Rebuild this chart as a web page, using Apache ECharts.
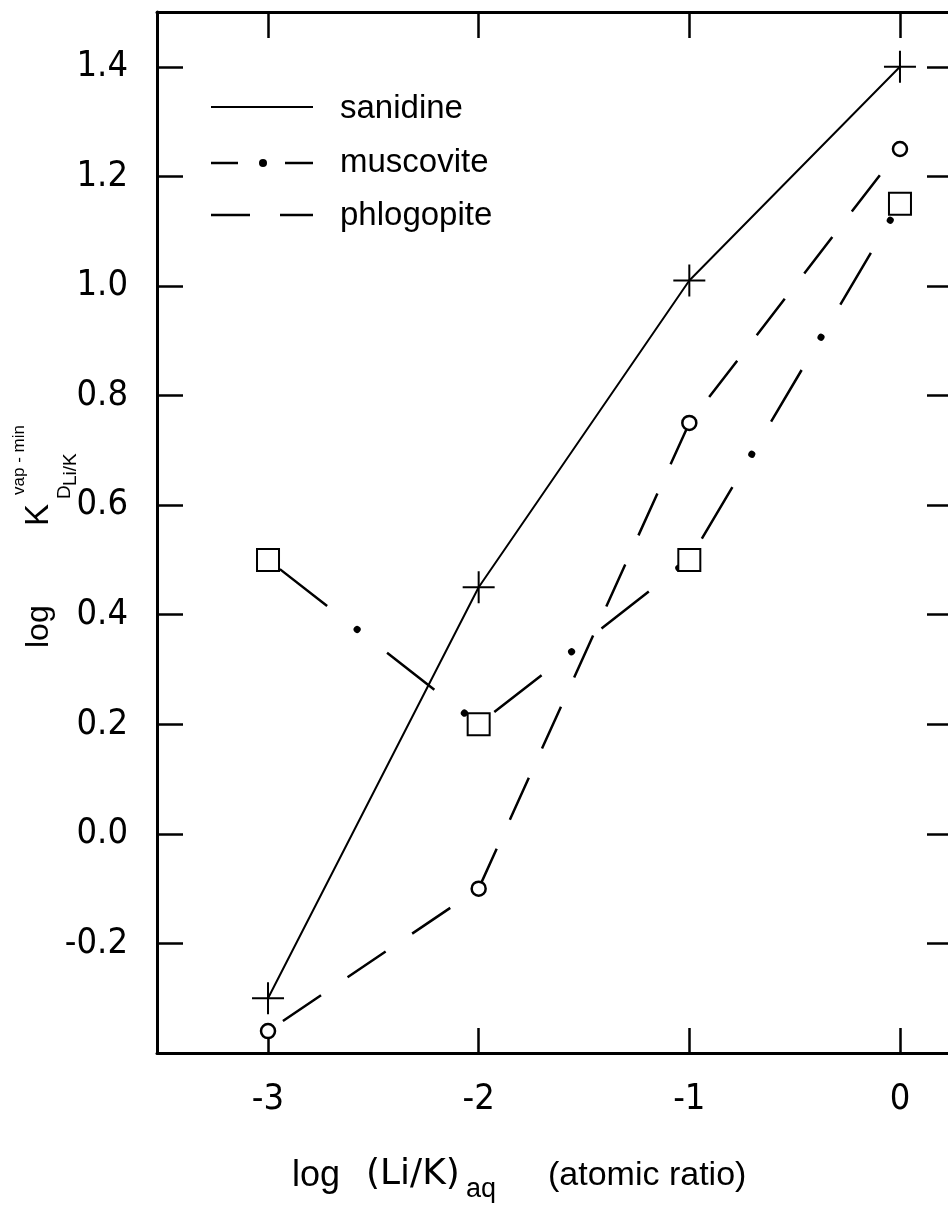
<!DOCTYPE html>
<html>
<head>
<meta charset="utf-8">
<script src="https://cdn.jsdelivr.net/npm/echarts@6/dist/echarts.min.js"></script>
<style>
  html, body { margin: 0; padding: 0; background: #fff; }
  #chart { width: 948px; height: 1215px; }
</style>
</head>
<body>
<div id="chart"></div>
<script>
// ---- data ----
const xTicks = [-3, -2, -1, 0];
const xTickLabels = ['-3', '-2', '-1', '0'];
const yTicks = [-0.2, 0.0, 0.2, 0.4, 0.6, 0.8, 1.0, 1.2, 1.4];
const yTickLabels = ['-0.2', '0.0', '0.2', '0.4', '0.6', '0.8', '1.0', '1.2', '1.4'];
const logLiK = [-3, -2, -1, 0];
const sanidine = [-0.30, 0.45, 1.01, 1.40];
const muscovite = [0.50, 0.20, 0.50, 1.15];
const phlogopite = [-0.36, -0.10, 0.75, 1.25];

const NARROW = '"Liberation Sans Narrow", "DejaVu Sans Condensed", "Liberation Sans", sans-serif';
const SANS = '"Liberation Sans", Arial, sans-serif';
const WIDE = '"DejaVu Sans", "Liberation Sans", sans-serif';

function pairs(ys) { return logLiK.map((x, i) => [x, ys[i]]); }
function lookup(ticks, labels) {
  return function (v) {
    const i = ticks.findIndex(t => Math.abs(t - v) < 1e-6);
    return i >= 0 ? labels[i] : '';
  };
}

const axisLineStyle = { color: '#000', width: 3 };
const tickStyle = { color: '#000', width: 2.5 };
const X_MIN = -3.527, X_MAX = 0.228;
const Y_MIN = -0.4, Y_MAX = 1.5;

const chart = echarts.init(document.getElementById('chart'), null, { renderer: 'canvas' });

const option = {
  animation: false,
  backgroundColor: '#fff',
  grid: { left: 157, top: 12, right: 0, height: 1041, containLabel: false },
  xAxis: [
    {
      type: 'value', position: 'bottom', min: X_MIN, max: X_MAX,
      axisLine: { show: true, onZero: false, lineStyle: axisLineStyle },
      axisTick: { show: true, inside: true, length: 25, lineStyle: tickStyle, customValues: xTicks },
      axisLabel: { show: true, margin: 29, fontSize: 36, fontFamily: NARROW, color: '#000',
                   customValues: xTicks, formatter: lookup(xTicks, xTickLabels) },
      splitLine: { show: false }
    },
    {
      type: 'value', position: 'top', min: X_MIN, max: X_MAX,
      axisLine: { show: true, onZero: false, lineStyle: axisLineStyle },
      axisTick: { show: true, inside: true, length: 26, lineStyle: tickStyle, customValues: xTicks },
      axisLabel: { show: false },
      splitLine: { show: false }
    }
  ],
  yAxis: [
    {
      type: 'value', position: 'left', min: Y_MIN, max: Y_MAX,
      axisLine: { show: true, onZero: false, lineStyle: axisLineStyle },
      axisTick: { show: true, inside: true, length: 26, lineStyle: tickStyle, customValues: yTicks },
      axisLabel: { show: true, margin: 29, fontSize: 36, fontFamily: NARROW, color: '#000',
                   customValues: yTicks, formatter: lookup(yTicks, yTickLabels) },
      splitLine: { show: false }
    },
    {
      type: 'value', position: 'right', min: Y_MIN, max: Y_MAX,
      axisLine: { show: false, onZero: false },
      axisTick: { show: true, inside: true, length: 21, lineStyle: tickStyle, customValues: yTicks },
      axisLabel: { show: false },
      splitLine: { show: false }
    }
  ],
  series: [
    {
      name: 'sanidine', type: 'line', data: pairs(sanidine), z: 5,
      symbol: 'path://M0,-16L0,16M-16,0L16,0', symbolSize: 32,
      itemStyle: { color: '#000', borderColor: '#000', borderWidth: 2 },
      lineStyle: { color: '#000', width: 2, type: 'solid' }
    },
    {
      name: 'muscovite-dots', type: 'line', data: pairs(muscovite), z: 3,
      symbol: 'none', silent: true,
      lineStyle: { color: '#000', width: 7, type: [0.1, 135.9], dashOffset: 23, cap: 'round' }
    },
    {
      name: 'muscovite', type: 'line', data: pairs(muscovite), z: 4,
      symbol: 'rect', symbolSize: 22,
      itemStyle: { color: '#fff', borderColor: '#000', borderWidth: 2 },
      lineStyle: { color: '#000', width: 2.5, type: [60, 76], dashOffset: 121 }
    },
    {
      name: 'phlogopite', type: 'line', data: pairs(phlogopite), z: 4,
      symbol: 'circle', symbolSize: 14,
      itemStyle: { color: '#fff', borderColor: '#000', borderWidth: 2.5 },
      lineStyle: { color: '#000', width: 2.5, type: [46, 32], dashOffset: 60 }
    }
  ],
  graphic: [
    // legend
    { type: 'line', shape: { x1: 211, y1: 107, x2: 313, y2: 107 }, style: { stroke: '#000', lineWidth: 2 } },
    { type: 'line', shape: { x1: 211, y1: 163, x2: 238, y2: 163 }, style: { stroke: '#000', lineWidth: 2.5 } },
    { type: 'circle', shape: { cx: 263, cy: 163, r: 4 }, style: { fill: '#000' } },
    { type: 'line', shape: { x1: 285, y1: 163, x2: 313, y2: 163 }, style: { stroke: '#000', lineWidth: 2.5 } },
    { type: 'line', shape: { x1: 211, y1: 215, x2: 250, y2: 215 }, style: { stroke: '#000', lineWidth: 2.5 } },
    { type: 'line', shape: { x1: 280, y1: 215, x2: 313, y2: 215 }, style: { stroke: '#000', lineWidth: 2.5 } },
    { type: 'text', x: 340, y: 109, style: { text: 'sanidine', fontSize: 33, fontFamily: SANS, fill: '#000', align: 'left', verticalAlign: 'middle' } },
    { type: 'text', x: 340, y: 163, style: { text: 'muscovite', fontSize: 33, fontFamily: SANS, fill: '#000', align: 'left', verticalAlign: 'middle' } },
    { type: 'text', x: 340, y: 216, style: { text: 'phlogopite', fontSize: 33, fontFamily: SANS, fill: '#000', align: 'left', verticalAlign: 'middle' } },

    // x-axis title
    { type: 'text', x: 292, y: 1176, style: { text: 'log', fontSize: 36, fontFamily: SANS, fill: '#000', align: 'left', verticalAlign: 'middle' } },
    { type: 'text', x: 366, y: 1175, style: { text: '(Li/K)', fontSize: 36, fontFamily: WIDE, fill: '#000', align: 'left', verticalAlign: 'middle' } },
    { type: 'text', x: 466, y: 1190, style: { text: 'aq', fontSize: 27, fontFamily: SANS, fill: '#000', align: 'left', verticalAlign: 'middle' } },
    { type: 'text', x: 548, y: 1176, style: { text: '(atomic ratio)', fontSize: 34, fontFamily: SANS, fill: '#000', align: 'left', verticalAlign: 'middle' } },

    // y-axis title (rotated)
    { type: 'text', x: 39, y: 648, rotation: Math.PI / 2, style: { text: 'log', fontSize: 32, fontFamily: SANS, fill: '#000', align: 'left', verticalAlign: 'middle' } },
    { type: 'text', x: 39, y: 526, rotation: Math.PI / 2, style: { text: 'K', fontSize: 33, fontFamily: SANS, fill: '#000', align: 'left', verticalAlign: 'middle' } },
    { type: 'text', x: 65, y: 499, rotation: Math.PI / 2, style: { text: 'D', fontSize: 19, fontFamily: SANS, fill: '#000', align: 'left', verticalAlign: 'middle' } },
    { type: 'text', x: 71, y: 486, rotation: Math.PI / 2, style: { text: 'Li/K', fontSize: 19, fontFamily: SANS, fill: '#000', align: 'left', verticalAlign: 'middle' } },
    { type: 'text', x: 19, y: 495, rotation: Math.PI / 2, style: { text: 'vap - min', fontSize: 17, fontFamily: SANS, fill: '#000', align: 'left', verticalAlign: 'middle' } }
  ]
};
chart.setOption(option);
</script>
</body>
</html>
